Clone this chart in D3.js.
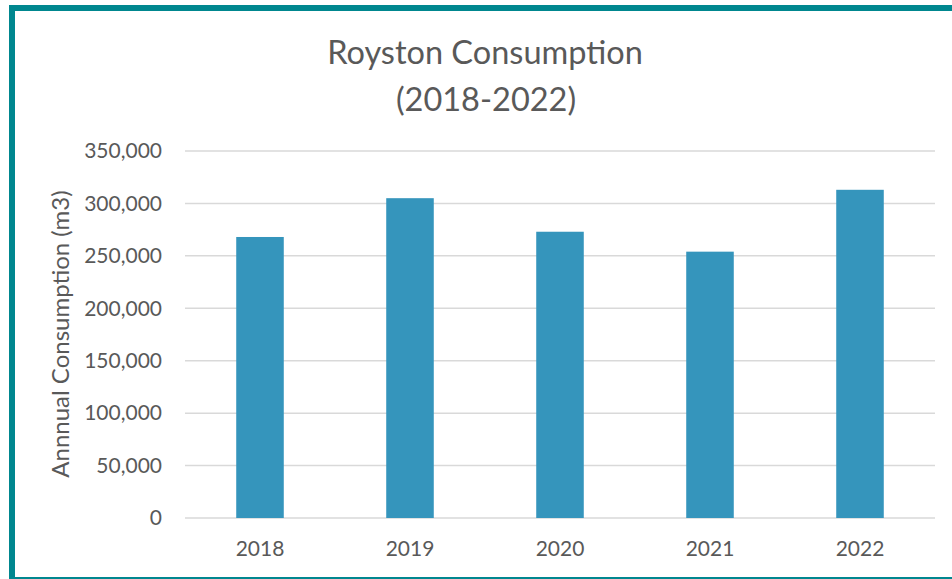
<!DOCTYPE html>
<html>
<head>
<meta charset="utf-8">
<script src="https://cdn.jsdelivr.net/npm/d3@7"></script>
<style>
  body { margin: 0; background: #fff; }
  text { font-family: Lato, "Open Sans", sans-serif; fill: #595959; }
</style>
</head>
<body>
<script>
const years = ['2018', '2019', '2020', '2021', '2022'];
const consumption = [268000, 305000, 273000, 254000, 313000];
const yTicks = [0, 50000, 100000, 150000, 200000, 250000, 300000, 350000];

const w = 952;
const h = 579;
const plotLeft = 185, plotRight = 935, plotTop = 151, plotBottom = 518;

const svg = d3.select('body').append('svg').attr('width', w).attr('height', h);

// teal frame (right side runs off the picture)
svg.append('rect')
   .attr('x', 12).attr('y', 8)
   .attr('width', w + 20).attr('height', h - 7)
   .attr('fill', 'none')
   .attr('stroke', '#00878f')
   .attr('stroke-width', 6);

const xScale = d3.scaleBand().domain(years).range([plotLeft, plotRight]).paddingInner(0.683).paddingOuter(0.3415);
const yScale = d3.scaleLinear().domain([0, 350000]).range([plotBottom, plotTop]);

// gridlines
svg.append('g')
   .selectAll('line')
   .data(yTicks)
   .enter()
   .append('line')
   .attr('x1', plotLeft).attr('x2', plotRight)
   .attr('y1', d => yScale(d)).attr('y2', d => yScale(d))
   .attr('stroke', '#d9d9d9')
   .attr('stroke-width', 1.5);

svg.selectAll('rect.bar')
   .data(consumption)
   .enter()
   .append('rect')
   .attr('class', 'bar')
   .attr('x', (d, i) => xScale(years[i]))
   .attr('y', d => yScale(d))
   .attr('width', xScale.bandwidth())
   .attr('height', d => plotBottom - yScale(d))
   .attr('fill', '#3595bc');

const yAxis = d3.axisLeft(yScale).tickValues(yTicks).tickSize(0).tickPadding(23).tickFormat(d3.format(','));
svg.append('g')
   .attr('transform', 'translate(' + plotLeft + ',0)')
   .call(yAxis)
   .call(g => g.select('.domain').remove())
   .selectAll('text')
   .style('font-size', '21px')
   .attr('fill', '#595959');

const xAxis = d3.axisBottom(xScale).tickSize(0).tickPadding(0);
svg.append('g')
   .attr('transform', 'translate(0,' + plotBottom + ')')
   .call(xAxis)
   .call(g => g.select('.domain').remove())
   .selectAll('text')
   .attr('y', 38).attr('dy', null)
   .style('font-size', '21px')
   .attr('fill', '#595959');

svg.append('text').text('Royston Consumption')
   .attr('x', 485).attr('y', 64).attr('text-anchor', 'middle').style('font-size', '32.5px');
svg.append('text').text('(2018-2022)')
   .attr('x', 486).attr('y', 111).attr('text-anchor', 'middle').style('font-size', '32.5px');

svg.append('text').text('Annnual Consumption (m3)')
   .attr('text-anchor', 'middle')
   .attr('transform', 'translate(69, 334)rotate(-90)')
   .style('font-size', '24px');
</script>
</body>
</html>
